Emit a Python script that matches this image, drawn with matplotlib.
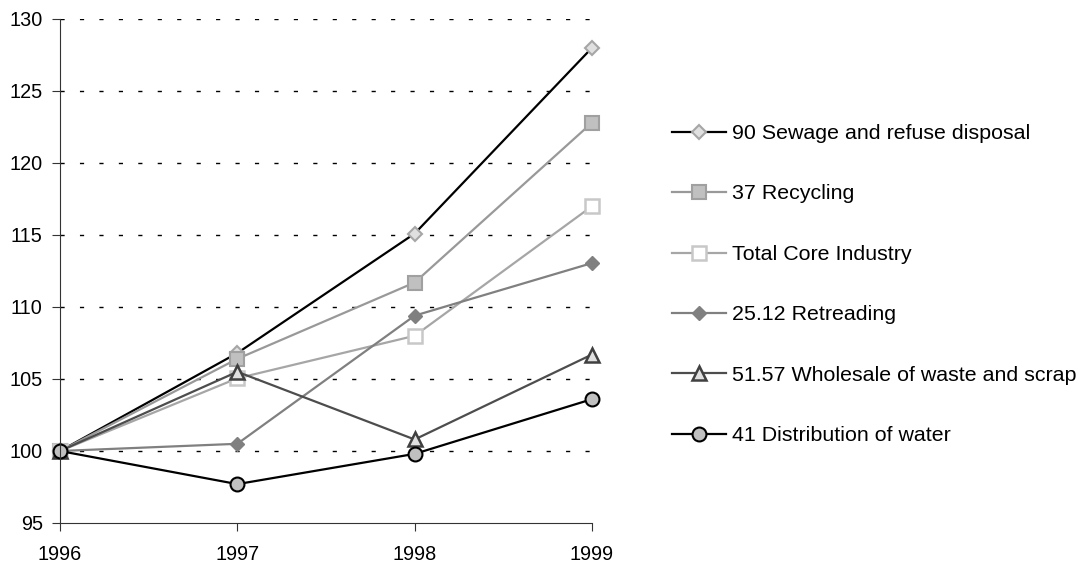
import matplotlib
matplotlib.use("Agg")
import matplotlib.pyplot as plt

years = [1996, 1997, 1998, 1999]
series_names = [
    "90 Sewage and refuse disposal",
    "37 Recycling",
    "Total Core Industry",
    "25.12 Retreading",
    "51.57 Wholesale of waste and scrap",
    "41 Distribution of water",
]
sewage = [100, 106.8, 115.1, 128.0]
recycling = [100, 106.4, 111.7, 122.8]
total_core = [100, 105.05, 108.0, 117.0]
retreading = [100, 100.5, 109.4, 113.05]
wholesale = [100, 105.5, 100.8, 106.7]
water = [100, 97.7, 99.8, 103.6]
y_ticks = [95, 100, 105, 110, 115, 120, 125, 130]

plt.rcParams['font.family'] = ['Liberation Sans', 'DejaVu Sans']
fig = plt.figure(figsize=(10.85, 5.67), dpi=100)
ax = fig.add_axes([60/1085, 1-523/567, (592-60)/1085, (523-19)/567])

styles = [
    dict(color='black', marker='D', mfc='#e0e0e0', mec='#a6a6a6', ms=7.5, mew=1.5),
    dict(color='#999999', marker='s', mfc='#c0c0c0', mec='#a0a0a0', ms=9.5, mew=1.5),
    dict(color='#a6a6a6', marker='s', mfc='white', mec='#c8c8c8', ms=9.5, mew=1.8),
    dict(color='#808080', marker='D', mfc='#808080', mec='#808080', ms=7.5, mew=1.0),
    dict(color='#4d4d4d', marker='^', mfc='#e0e0e0', mec='#404040', ms=10, mew=1.8),
    dict(color='black', marker='o', mfc='#c0c0c0', mec='black', ms=10, mew=1.5),
]
data = [sewage, recycling, total_core, retreading, wholesale, water]
for name, vals, st in zip(series_names, data, styles):
    ax.plot(years, vals, lw=1.6, label=name, clip_on=False, **st)

ax.set_xlim(1996, 1999)
ax.set_ylim(95, 130)
ax.set_yticks(y_ticks)
ax.set_xticks(years)
ax.set_xticklabels([str(y) for y in years])
for t in y_ticks[1:]:
    ax.axhline(t, color='black', lw=1.0, ls=(0, (3, 11)), zorder=0)
ax.spines['top'].set_visible(False)
ax.spines['right'].set_visible(False)
ax.spines['left'].set_color('#333333')
ax.spines['bottom'].set_color('#333333')
ax.tick_params(axis='both', direction='out', length=5.5, color='#333333', labelsize=14.3)
ax.tick_params(axis='y', pad=7)
ax.tick_params(axis='x', pad=10)

leg = fig.legend(loc='upper left', bbox_to_anchor=(672/1085, 1-124/567), frameon=False,
                 fontsize=15.4, labelspacing=1.94, handlelength=2.52, handletextpad=0.28,
                 borderpad=0, borderaxespad=0)
fig.savefig("out.png", dpi=100)
